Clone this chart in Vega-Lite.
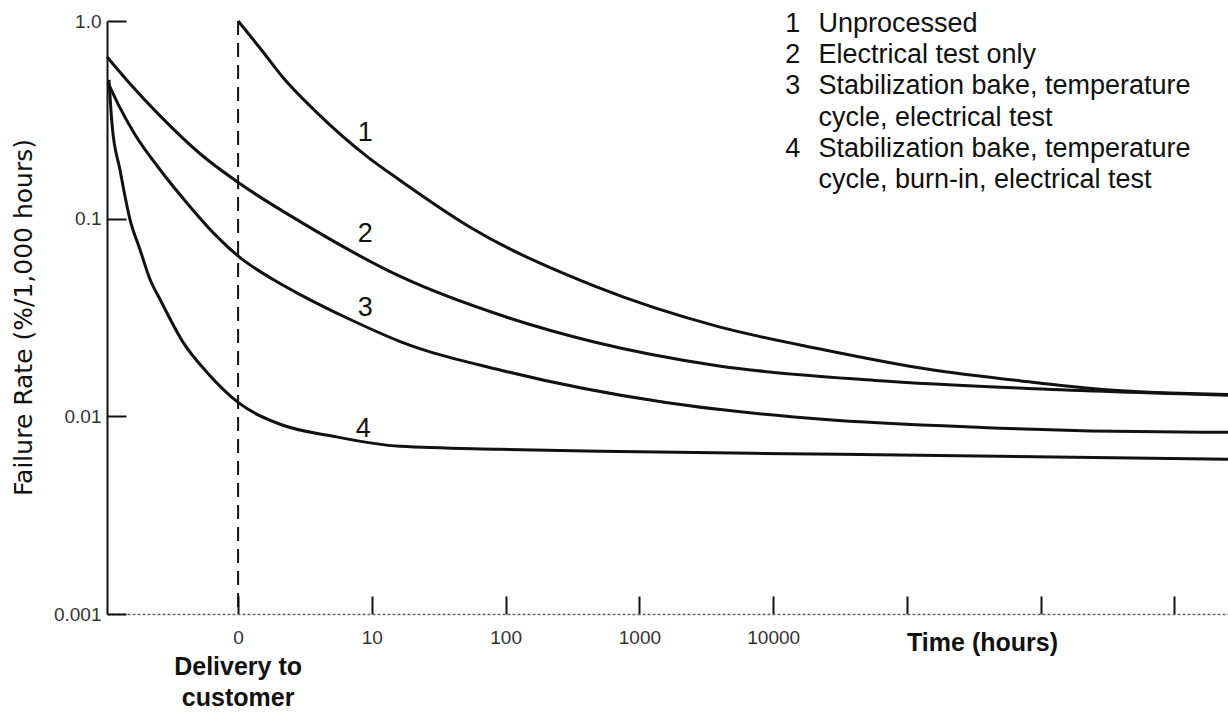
{
  "$schema": "https://vega.github.io/schema/vega-lite/v6.json",
  "width": 1121,
  "height": 593,
  "autosize": {"type": "none"},
  "padding": {"left": 107, "top": 21, "right": 0, "bottom": 98},
  "background": "white",
  "config": {"view": {"stroke": null}, "font": "Liberation Sans"},
  "datasets": {
    "curves": [
      {"curve": "1", "stage": 0, "rate": 1.0},
      {"curve": "1", "stage": 0.165, "rate": 0.728},
      {"curve": "1", "stage": 0.337, "rate": 0.516},
      {"curve": "1", "stage": 0.591, "rate": 0.343},
      {"curve": "1", "stage": 0.965, "rate": 0.206},
      {"curve": "1", "stage": 1.212, "rate": 0.156},
      {"curve": "1", "stage": 1.728, "rate": 0.0911},
      {"curve": "1", "stage": 2.67, "rate": 0.0454},
      {"curve": "1", "stage": 3.583, "rate": 0.0285},
      {"curve": "1", "stage": 4.368, "rate": 0.0218},
      {"curve": "1", "stage": 5.161, "rate": 0.0173},
      {"curve": "1", "stage": 5.954, "rate": 0.01485},
      {"curve": "1", "stage": 6.462, "rate": 0.01368},
      {"curve": "1", "stage": 7.4, "rate": 0.0129},
      {"curve": "2", "stage": -0.98, "rate": 0.658},
      {"curve": "2", "stage": -0.808, "rate": 0.481},
      {"curve": "2", "stage": -0.583, "rate": 0.331},
      {"curve": "2", "stage": -0.284, "rate": 0.213},
      {"curve": "2", "stage": 0.015, "rate": 0.1502},
      {"curve": "2", "stage": 0.464, "rate": 0.0966},
      {"curve": "2", "stage": 1.212, "rate": 0.051},
      {"curve": "2", "stage": 2.004, "rate": 0.0318},
      {"curve": "2", "stage": 2.67, "rate": 0.0237},
      {"curve": "2", "stage": 3.583, "rate": 0.01803},
      {"curve": "2", "stage": 4.764, "rate": 0.0152},
      {"curve": "2", "stage": 5.954, "rate": 0.0138},
      {"curve": "2", "stage": 7.4, "rate": 0.0128},
      {"curve": "3", "stage": -0.972, "rate": 0.486},
      {"curve": "3", "stage": -0.898, "rate": 0.381},
      {"curve": "3", "stage": -0.77, "rate": 0.2655},
      {"curve": "3", "stage": -0.583, "rate": 0.1768},
      {"curve": "3", "stage": -0.359, "rate": 0.115},
      {"curve": "3", "stage": -0.172, "rate": 0.083},
      {"curve": "3", "stage": 0.015, "rate": 0.0635},
      {"curve": "3", "stage": 0.262, "rate": 0.0492},
      {"curve": "3", "stage": 0.464, "rate": 0.0413},
      {"curve": "3", "stage": 0.838, "rate": 0.0309},
      {"curve": "3", "stage": 1.212, "rate": 0.0239},
      {"curve": "3", "stage": 2.004, "rate": 0.01687},
      {"curve": "3", "stage": 3.186, "rate": 0.01177},
      {"curve": "3", "stage": 4.368, "rate": 0.00966},
      {"curve": "3", "stage": 5.557, "rate": 0.00879},
      {"curve": "3", "stage": 6.545, "rate": 0.0084},
      {"curve": "3", "stage": 7.4, "rate": 0.0083},
      {"curve": "4", "stage": -0.965, "rate": 0.504},
      {"curve": "4", "stage": -0.942, "rate": 0.2985},
      {"curve": "4", "stage": -0.883, "rate": 0.1767},
      {"curve": "4", "stage": -0.808, "rate": 0.0989},
      {"curve": "4", "stage": -0.733, "rate": 0.0697},
      {"curve": "4", "stage": -0.658, "rate": 0.0492},
      {"curve": "4", "stage": -0.583, "rate": 0.039},
      {"curve": "4", "stage": -0.411, "rate": 0.02366},
      {"curve": "4", "stage": -0.232, "rate": 0.01668},
      {"curve": "4", "stage": 0, "rate": 0.01177},
      {"curve": "4", "stage": 0.314, "rate": 0.00912},
      {"curve": "4", "stage": 0.711, "rate": 0.00793},
      {"curve": "4", "stage": 1.212, "rate": 0.00705},
      {"curve": "4", "stage": 1.96, "rate": 0.00681},
      {"curve": "4", "stage": 2.708, "rate": 0.00665},
      {"curve": "4", "stage": 4.503, "rate": 0.00643},
      {"curve": "4", "stage": 7.4, "rate": 0.00607}
    ],
    "curveLabels": [
      {"label": "1", "stage": 0.95, "rate": 0.272},
      {"label": "2", "stage": 0.95, "rate": 0.084},
      {"label": "3", "stage": 0.95, "rate": 0.0355},
      {"label": "4", "stage": 0.935, "rate": 0.0086}
    ],
    "key": [
      {"num": "1", "text": "Unprocessed", "rate": 0.88},
      {"num": "2", "text": "Electrical test only", "rate": 0.612},
      {"num": "3", "text": "Stabilization bake, temperature", "rate": 0.426},
      {"num": "", "text": "cycle, electrical test", "rate": 0.296},
      {"num": "4", "text": "Stabilization bake, temperature", "rate": 0.206},
      {"num": "", "text": "cycle, burn-in, electrical test", "rate": 0.1434}
    ]
  },
  "layer": [
    {
      "data": {"name": "curves"},
      "mark": {"type": "line", "interpolate": "monotone", "strokeWidth": 3, "color": "#111"},
      "encoding": {
        "x": {
          "field": "stage", "type": "quantitative",
          "scale": {"domain": [-0.98, 7.4], "nice": false, "zero": false},
          "axis": {
            "values": [0, 1, 2, 3, 4, 5, 6, 7],
            "labelExpr": "datum.value == 0 ? '0' : (datum.value <= 4 ? format(pow(10, datum.value), 'd') : '')",
            "title": "Time (hours)",
            "titleX": 875, "titleY": 28,
            "titleBaseline": "middle", "titleAlign": "center",
            "titleFont": "Liberation Sans", "titleFontSize": 25, "titleFontWeight": "bold", "titleColor": "#111",
            "tickSize": -18, "tickWidth": 2, "tickColor": "#111",
            "labelPadding": 32, "labelBaseline": "top", "labelFontSize": 19, "labelColor": "#333",
            "labelFlush": false, "labelOverlap": false,
            "domainColor": "#666", "domainWidth": 1.5, "domainDash": [3, 2],
            "grid": false
          }
        },
        "y": {
          "field": "rate", "type": "quantitative",
          "scale": {"type": "log", "domain": [0.001, 1], "nice": false},
          "axis": {
            "values": [0.001, 0.01, 0.1, 1],
            "labelExpr": "datum.value >= 0.5 ? '1.0' : (datum.value >= 0.05 ? '0.1' : (datum.value >= 0.005 ? '0.01' : '0.001'))",
            "title": "Failure Rate (%/1,000 hours)",
            "titleX": -84, "titleY": 296, "titleAngle": 270,
            "titleBaseline": "middle", "titleAlign": "center",
            "titleFont": "DejaVu Sans", "titleFontSize": 25, "titleFontWeight": "normal", "titleColor": "#111",
            "tickSize": -19, "tickWidth": 2, "tickColor": "#111",
            "labelPadding": 25, "labelFontSize": 19, "labelColor": "#333",
            "labelFlush": false, "labelOverlap": false,
            "domainColor": "#111", "domainWidth": 2,
            "grid": false
          }
        },
        "detail": {"field": "curve"}
      }
    },
    {
      "data": {"values": [{}]},
      "mark": {"type": "rule", "strokeDash": [14, 8], "strokeWidth": 2, "color": "#111"},
      "encoding": {"x": {"datum": 0}, "y": {"datum": 1}, "y2": {"datum": 0.001}}
    },
    {
      "data": {"name": "curveLabels"},
      "mark": {"type": "text", "fontSize": 27, "align": "center", "baseline": "middle", "color": "#111"},
      "encoding": {
        "x": {"field": "stage", "type": "quantitative"},
        "y": {"field": "rate", "type": "quantitative"},
        "text": {"field": "label"}
      }
    },
    {
      "data": {"name": "key"},
      "mark": {"type": "text", "fontSize": 27, "align": "right", "baseline": "alphabetic", "color": "#111"},
      "encoding": {
        "x": {"datum": 4.203},
        "y": {"field": "rate", "type": "quantitative"},
        "text": {"field": "num"}
      }
    },
    {
      "data": {"name": "key"},
      "mark": {"type": "text", "fontSize": 27, "align": "left", "baseline": "alphabetic", "color": "#111"},
      "encoding": {
        "x": {"datum": 4.338},
        "y": {"field": "rate", "type": "quantitative"},
        "text": {"field": "text"}
      }
    },
    {
      "data": {"values": [{}]},
      "mark": {"type": "text", "fontSize": 25, "fontWeight": "bold", "align": "center", "baseline": "alphabetic", "lineHeight": 31, "color": "#111"},
      "encoding": {
        "x": {"datum": 0},
        "y": {"datum": 0.00049},
        "text": {"value": ["Delivery to", "customer"]}
      }
    }
  ]
}
